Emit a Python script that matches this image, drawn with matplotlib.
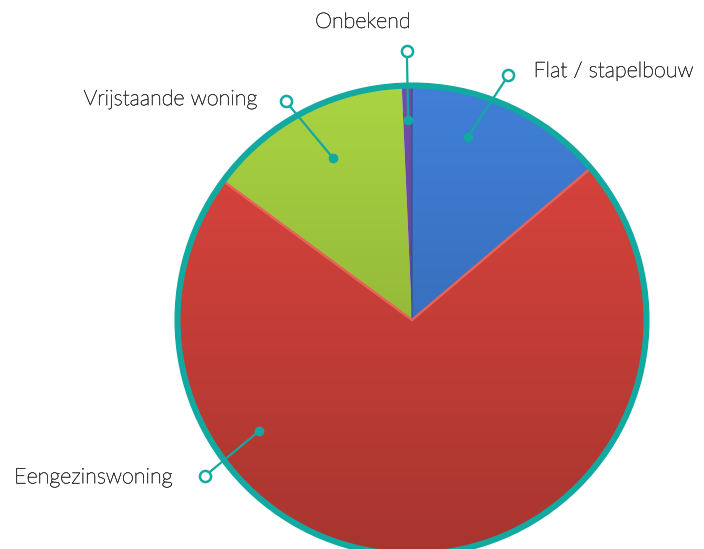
import numpy as np
import matplotlib.pyplot as plt
import matplotlib.patheffects as pe
from matplotlib.colors import to_rgb

# ---> data (share of dwellings, %)
labels = ['Flat / stapelbouw', 'Eengezinswoning', 'Vrijstaande woning', 'Onbekend']
shares = [13.8, 71.3, 14.2, 0.7]
colors = ['#3d78cc', '#d2423b', '#a0c83e', '#6a4a9e']

# callout anchors: (angle deg, radius fraction) for inner dot and outer ring
dot_pos = [(73, 0.82), (216, 0.81), (116, 0.77), (91.1, 0.855)]
ring_pos = [(68.5, 1.125), (217, 1.11), (120, 1.08), (91.1, 1.15)]
# text offset from the outer ring (pixels) and alignment
text_off = [(25, 4), (-32, -1), (-28, 2), (-44, 29)]
text_ha = ['left', 'right', 'right', 'center']

teal = '#12a9a1'
W, H = 704, 549
fig = plt.figure(figsize=(W / 100, H / 100), dpi=100)
ax = fig.add_axes([0, 0, 1, 1])
cx, cy, R = 412, H - 320, 234

wedges, _ = ax.pie(shares, colors=colors, startangle=90, counterclock=False,
                   center=(cx, cy), radius=R, wedgeprops=dict(linewidth=0))
ax.set_xlim(0, W)
ax.set_ylim(0, H)
ax.set_aspect('equal')
ax.axis('off')

# ===== vertical shading inside each slice =====
shade = np.linspace(0.80, 1.06, 256)
for w, c in zip(wedges, colors):
    img = np.clip(np.array(to_rgb(c))[None, None, :] * shade[:, None, None], 0, 1)
    im = ax.imshow(img, extent=(cx - R, cx + R, cy - R, cy + R), origin='lower',
                   aspect='auto', zorder=1)
    im.set_clip_path(w)
    w.set_facecolor('none')
    w.set_zorder(2)
wedges[1].set_edgecolor('#e8625a')
wedges[1].set_linewidth(1.8)
wedges[0].set_edgecolor('#2f4f8a')
wedges[0].set_linewidth(0.8)

# ===== teal ring =====
ring = plt.Circle((cx, cy), R + 0.5, fill=False, edgecolor=teal, linewidth=4.4, zorder=3)
ax.add_patch(ring)

# ===== callouts =====
def polar(a, f):
    t = np.deg2rad(a)
    return cx + f * R * np.cos(t), cy + f * R * np.sin(t)

txt_color = '#3a3a3a'
for lab, d, r, off, ha in zip(labels, dot_pos, ring_pos, text_off, text_ha):
    x0, y0 = polar(*d)
    x1, y1 = polar(*r)
    ax.plot([x0, x1], [y0, y1], color=teal, linewidth=1.6, zorder=4)
    ax.plot(x0, y0, 'o', color=teal, markersize=6, zorder=5)
    ax.plot(x1, y1, 'o', markerfacecolor='white', markeredgecolor=teal,
            markersize=8, markeredgewidth=1.8, zorder=5)
    ax.annotate(lab, xy=(x1, y1), xytext=off, textcoords='offset pixels',
                ha=ha, va='center', fontsize=15.5, family='Lato',
                fontweight='light', color=txt_color,
                path_effects=[pe.withStroke(linewidth=0.4, foreground=txt_color)])

plt.savefig('out.png', dpi=100)
